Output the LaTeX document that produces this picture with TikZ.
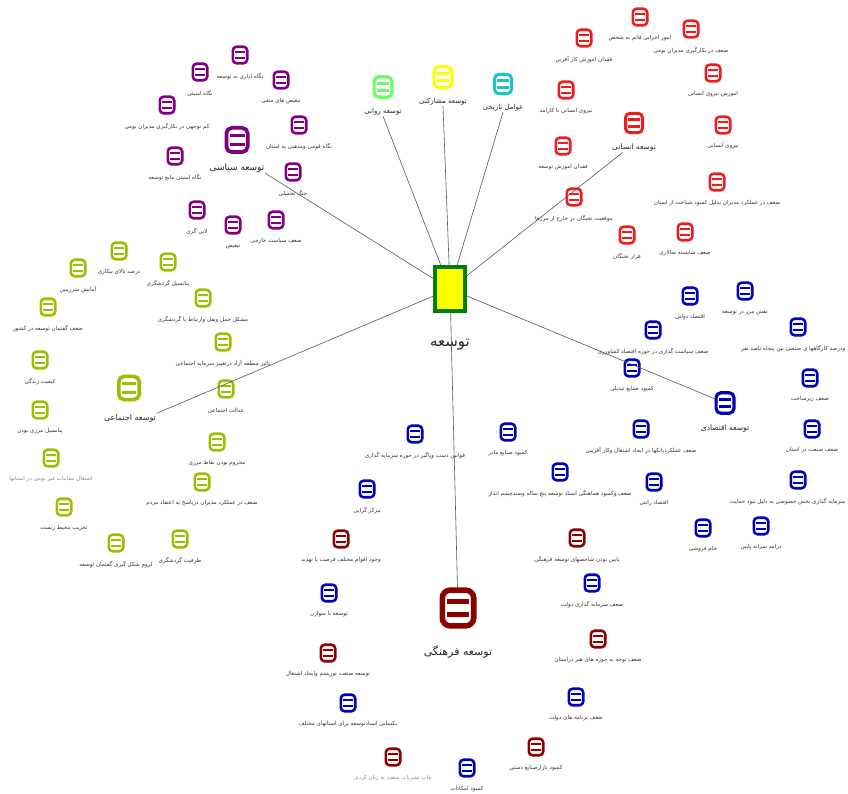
\documentclass[tikz,border=0pt]{standalone}
\usepackage{fontspec}
\usetikzlibrary{calc}
\newfontfamily\arfont[Script=Arabic]{DejaVu Sans}
\TeXXeTstate=1
\definecolor{pu}{HTML}{800080}
\definecolor{rd}{HTML}{EE1C1C}
\definecolor{gr}{HTML}{99C000}
\definecolor{bl}{HTML}{0000BB}
\definecolor{mr}{HTML}{8B0000}
\definecolor{lg}{HTML}{66FF66}
\definecolor{yl}{HTML}{FFFF00}
\definecolor{tl}{HTML}{1CC4C4}
\definecolor{cg}{HTML}{008000}
\definecolor{tx}{HTML}{333333}
\tikzset{
  lbl/.style={font=\arfont\fontsize{5.6}{6}\selectfont, text=tx, inner sep=0.5pt},
  lblfaint/.style={lbl, text=black!45},
  biglbl/.style={font=\arfont\fontsize{#1}{#1}\selectfont, text=black!85, inner sep=0.5pt},
  conn/.style={draw=black!65, line width=0.6pt},
}
\newcommand\icn[5]{%
  \node[draw=#4, line width={0.15*#5pt}, rounded corners={0.22*#5pt}, minimum width={0.85*#5pt}, minimum height={0.97*#5pt}, inner sep=0pt, fill=white] (#1) at (#2,#3) {};
  \draw[#4, line width={0.12*#5pt}] (#2-0.3*#5,#3-0.17*#5) -- (#2+0.3*#5,#3-0.17*#5) (#2-0.3*#5,#3+0.17*#5) -- (#2+0.3*#5,#3+0.17*#5);
}
\newcommand\nd[5]{\icn{#1}{#2}{#3}{#4}{17}\node[lbl] (#1l) at (#2,#3+21.5) {#5};}
\newcommand\ndf[5]{\icn{#1}{#2}{#3}{#4}{17}\node[lblfaint] (#1l) at (#2,#3+21.5) {#5};}
\begin{document}
\begin{tikzpicture}[x=1pt,y=-1pt]
\useasboundingbox[fill=white] (0,0) rectangle (848,794);

% center
\node[draw=cg, line width=4pt, fill=yl, minimum width=30pt, minimum height=44pt, inner sep=0pt] (c) at (450,289) {};
\node[biglbl=15] (cl) at (450,345) {\beginR توسعه\endR};

% top branches
\icn{rav}{383}{87}{lg}{21}
\node[biglbl=7] (ravl) at (383,112) {\beginR توسعه روانی\endR};
\icn{mos}{443}{77}{yl}{21}
\node[biglbl=7] (mosl) at (443,102) {\beginR توسعه مشارکتی\endR};
\icn{tar}{503}{84}{tl}{20}
\node[biglbl=7] (tarl) at (503,108) {\beginR عوامل تاریخی\endR};

% political (purple)
\icn{sia}{237}{140}{pu}{25}
\node[biglbl=9] (sial) at (237,168) {\beginR توسعه سیاسی\endR};
\nd{p1}{240}{55}{pu}{\beginR نگاه اداری به توسعه\endR}
\nd{p2}{200}{72}{pu}{\beginR نگاه امنیتی\endR}
\nd{p3}{281}{80}{pu}{\beginR تبعیض های منفی\endR}
\nd{p4}{167}{105}{pu}{\beginR کم توجهی در بکارگیری مدیران بومی\endR}
\nd{p5}{299}{125}{pu}{\beginR نگاه قومی ومذهبی به استان\endR}
\nd{p6}{175}{156}{pu}{\beginR نگاه امنیتی مانع توسعه\endR}
\nd{p7}{293}{172}{pu}{\beginR جنگ تحمیلی\endR}
\nd{p8}{197}{210}{pu}{\beginR لابی گری\endR}
\nd{p9}{233}{225}{pu}{\beginR تبعیض\endR}
\nd{p10}{276}{220}{pu}{\beginR ضعف سیاست خارجی\endR}

% human (red)
\icn{ens}{634}{123}{rd}{20}
\node[biglbl=7.5] (ensl) at (634,148) {\beginR توسعه انسانی\endR};
\nd{r1}{640}{17}{rd}{\beginR امور اجرایی قائم به شخص\endR}
\nd{r2}{691}{29}{rd}{\beginR ضعف در بکارگیری  مدیران بومی\endR}
\nd{r3}{584}{38}{rd}{\beginR فقدان اموزش کار آفرین\endR}
\nd{r4}{713}{73}{rd}{\beginR اموزش نیروی انسانی\endR}
\nd{r5}{566}{90}{rd}{\beginR نیروی انسانی نا کارامد\endR}
\nd{r6}{723}{125}{rd}{\beginR نیروی انسانی\endR}
\nd{r7}{563}{146}{rd}{\beginR فقدان اموزش توسعه\endR}
\nd{r8}{717}{182}{rd}{\beginR ضعف در عملکرد مدیران بدلیل کمبود شناخت از استان\endR}
\nd{r9}{574}{197}{rd}{\beginR موقعیت نخبگان در خارج از مرزها\endR}
\nd{r10}{627}{235}{rd}{\beginR فرار نخبگان\endR}
\nd{r11}{685}{232}{rd}{\beginR ضعف شایسته سالاری\endR}

% social (green)
\icn{ejt}{129}{388}{gr}{24}
\node[biglbl=8] (ejtl) at (130,418) {\beginR توسعه اجتماعی\endR};
\nd{g1}{119}{251}{gr}{\beginR درصد بالای بیکاری\endR}
\nd{g2}{168}{262}{gr}{\beginR پتانسیل گردشگری\endR}
\nd{g3}{78}{268}{gr}{\beginR آمایش سرزمین\endR}
\nd{g4}{203}{298}{gr}{\beginR مشکل حمل ونقل وارتباط با گردشگری\endR}
\nd{g5}{48}{307}{gr}{\beginR ضعف گفتمان توسعه در کشور\endR}
\nd{g6}{223}{342}{gr}{\beginR تاثیر منطقه آزاد درتغییر سرمایه اجتماعی\endR}
\nd{g7}{40}{360}{gr}{\beginR کیفیت زندگی\endR}
\nd{g8}{226}{389}{gr}{\beginR عدالت اجتماعی\endR}
\nd{g9}{40}{410}{gr}{\beginR پتانسیل مرزی بودن\endR}
\ndf{g10}{51}{458}{gr}{\beginR اشتغال مقامات غیر بومی در استانها\endR}
\nd{g11}{217}{442}{gr}{\beginR محروم بودن نقاط مرزی\endR}
\nd{g12}{202}{482}{gr}{\beginR ضعف در عملکرد مدیران درپاسخ به اعتقاد مردم\endR}
\nd{g13}{64}{507}{gr}{\beginR تخریب محیط زیست\endR}
\nd{g14}{180}{539}{gr}{\beginR ظرفیت گردشگری\endR}
\nd{g15}{116}{543}{gr}{\beginR لزوم شکل گیری گفتمان توسعه\endR}

% economic (blue)
\icn{eqt}{725}{403}{bl}{21}
\node[biglbl=7.5] (eqtl) at (725,429) {\beginR توسعه اقتصادی\endR};
\nd{b1}{745}{291}{bl}{\beginR نقش مرز در توسعه\endR}
\nd{b2}{690}{296}{bl}{\beginR اقتصاد دولتی\endR}
\icn{b3}{798}{327}{bl}{17}
\node[lbl, anchor=east] (b3l) at (846,348.5) {\beginR ودرصد کارگاهها ی صنعتی بین پنجاه تاصد نفر\endR};
\nd{b4}{653}{330}{bl}{\beginR ضعف سیاست گذاری در حوزه اقتصاد کشاورزی\endR}
\nd{b5}{632}{368}{bl}{\beginR کمبود صنایع تبدیلی\endR}
\nd{b6}{810}{378}{bl}{\beginR ضعف زیرساخت\endR}
\nd{b7}{641}{429}{bl}{\beginR ضعف عملکردبانکها در ایجاد اشتغال وکار آفرینی\endR}
\nd{b8}{812}{429}{bl}{\beginR ضعف صنعت در استان\endR}
\nd{b9}{508}{432}{bl}{\beginR کمبود صنایع مادر\endR}
\nd{b10}{560}{472}{bl}{\beginR ضعف وکمبود هماهنگی اسناد توسعه پنج ساله وسندچشم انداز\endR}
\nd{b11}{654}{482}{bl}{\beginR اقتصاد رانتی\endR}
\icn{b12}{798}{480}{bl}{17}
\node[lbl, anchor=east] (b12l) at (846,501.5) {\beginR سرمایه گذاری بخش خصوصی به دلیل نبود حمایت\endR};
\nd{b13}{761}{526}{bl}{\beginR درامد سرانه پایین\endR}
\nd{b14}{703}{528}{bl}{\beginR خام فروشی\endR}
\nd{b15}{415}{434}{bl}{\beginR قوانین دست وپاگیر در حوزه سرمایه گذاری\endR}
\nd{b16}{367}{489}{bl}{\beginR مرکز گرایی\endR}
\nd{b17}{329}{593}{bl}{\beginR توسعه نا متوازن\endR}
\nd{b18}{592}{583}{bl}{\beginR ضعف سرمایه گذاری دولت\endR}
\nd{b19}{576}{697}{bl}{\beginR ضعف برنامه های دولت\endR}
\nd{b20}{348}{703}{bl}{\beginR یکسانی اسنادتوسعه برای استانهای مختلف\endR}
\nd{b21}{467}{768}{bl}{\beginR کمبود امکانات\endR}

% cultural (maroon)
\icn{far}{458}{608}{mr}{37}
\node[biglbl=11] (farl) at (458,652) {\beginR توسعه فرهنگی\endR};
\nd{m1}{577}{538}{mr}{\beginR پایین بودن شاخصهای توسعه فرهنگی\endR}
\nd{m2}{341}{539}{mr}{\beginR وجود اقوام  مختلف فرصت یا تهدید\endR}
\nd{m3}{598}{639}{mr}{\beginR ضعف توجه به حوزه های هنر دراستان\endR}
\nd{m4}{328}{653}{mr}{\beginR توسعه صنعت توریسم وایجاد اشتغال\endR}
\nd{m5}{536}{747}{mr}{\beginR کمبود بازارصنایع دستی\endR}
\ndf{m6}{393}{757}{mr}{\beginR چاپ نشریات متعدد به زبان کردی\endR}

% connectors
\draw[conn] (c) -- (ravl.south);
\draw[conn] (c) -- (mosl.south);
\draw[conn] (c) -- (tarl.south);
\draw[conn] (c) -- (sial.south east);
\draw[conn] (c) -- ($(ensl.south west)!0.25!(ensl.south east)$);
\draw[conn] (c) -- (eqt);
\draw[conn] (c) -- (ejtl.north east);
\draw[conn] (c) -- (far);
\end{tikzpicture}
\end{document}
